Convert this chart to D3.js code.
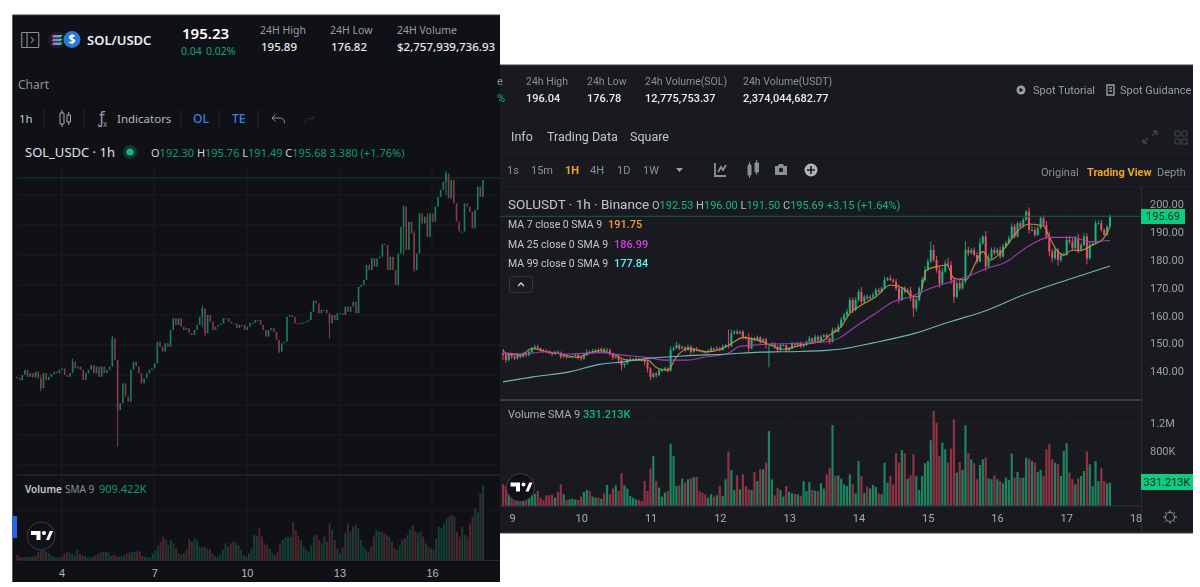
<!DOCTYPE html>
<html><head><meta charset="utf-8">
<style>html,body{margin:0;padding:0;background:#fff}svg{display:block;filter:blur(0.4px)}</style>
<script src="https://cdn.jsdelivr.net/npm/d3@7"></script>
</head><body><svg id="c" width="1200" height="587" font-family="'Noto Sans',Roboto,sans-serif"></svg>
<script>
// ---------- LEFT CHART: SOL/USDC ----------
const leftTicks=[4,7,10,13,16];
const leftGridPrices=[190,180,170,160,150,140,130,120,110,100];
const leftCloses=[128.9,128.3,130,131.7,129.4,130.6,129.2,131.1,128.9,125.6,130.6,128.3,129.4,130.3,131.1,130.6,131.7,132.2,130,129.4,130.6,134.4,132.2,132.8,131.7,128.3,130.6,131.7,133.3,130.6,132.8,129.4,132.8,130.6,131.7,132.8,142.2,135,118.3,120.6,127.2,122.8,121.1,131.7,134.4,132.8,130.6,127.2,128.9,130.6,131.7,132.2,133.9,141.1,139.4,137.8,140.6,139.4,145,148.9,146.7,148.9,146.1,145,145.6,143.9,143.3,145,146.7,149.4,152.2,143.9,150,147.8,145,146.1,146.7,147.2,148.9,148.9,147.8,147.2,147.2,145.6,146.7,146.7,145,146.1,
147.4,147.4,148.3,148.3,146.7,145,142.8,145,145.6,144.4,141.7,137.8,140.6,141.1,149.4,150,149.4,147.2,147,147.4,147.4,147.8,148.3,151.1,154.8,153.9,150.6,151.7,151.7,150.6,147.2,150,148.3,150.6,150.6,150,152.8,151.1,152.8,154.4,150.6,159.4,160,161.7,166.7,165,168.9,166.1,168.9,169.4,173.7,173.3,165,169.4,165,160,170.5,179.4,186.1,171.7,181.1,177.2,165,170.5,183.9,180.5,182.8,176.1,183.9,181.1,186.1,189.4,191.7,194.4,197.2,188.9,195,187.2,181.1,177.8,177.8,187.2,186.1,184.4,178.9,185,192.8,189.4,195];
const leftWickRows=[[9,130,124.6],[21,135.5,131],[36,143,134],[38,135,106.1],[70,153.2,146],[71,152,142.8],[99,141,137.2],[118,150,142.2],[146,186.5,170],[150,178,164.4],[155,184,176],[162,198,190]];
const leftVolumesK=[200,120,107,107,120,133,133,160,333,360,400,333,267,187,133,93,93,133,267,320,293,240,187,427,240,187,160,107,107,133,187,240,293,320,333,293,160,213,160,133,160,187,267,293,320,333,347,333,160,133,107,107,267,373,560,733,933,800,600,800,667,467,267,200,267,400,827,733,867,800,533,507,533,453,427,267,160,133,240,400,667,533,667,733,693,600,400,200,133,267,467,1000,960,1267,933,667,600,467,267,200,333,667,800,907,933,933,1533,1200,960,800,533,400,333,600,933,1000,800,667,933,733,1467,1200,800,467,267,533,1067,1467,1133,1333,1400,1267,800,533,400,333,533,933,1200,1133,1133,1067,1000,933,733,467,400,600,800,867,1000,1200,1400,1133,1067,1133,933,667,533,467,400,867,1333,1267,1467,1667,1733,1800,1733,1133,933,1333,1000,933,1467,1733,2067,1933,2667,3000];

// ---------- RIGHT CHART: SOLUSDT ----------
const rightTicks=[9,10,11,12,13,14,15,16,17,18];
const rightPriceTicks=[200,190,180,170,160,150,140];
const rightVolumeTicks=[[1200,"1.2M"],[800,"800K"],[400,"400K"]];
const rightCloses=[145.8,144,145.8,145.2,144.6,145.8,145.2,146.4,145.8,147,148.2,148.8,148.2,147.6,147.4,147,146.7,146.2,147,146.7,145.2,145.8,145,145.2,145.5,145.9,145,144.5,145.8,147,146.7,147.4,147.6,147.4,148,147.3,147.6,146.2,145,145.2,144,142.2,142.8,144,144.3,144.3,144.5,144.3,144,143.4,141,138,139.2,138.6,140.4,140.4,141,140.2,147.6,148.2,149.4,148.2,148.6,147.6,148.8,147,148.2,147.6,147.4,147,146.7,147.4,148.2,147.9,148.2,147.6,148.8,149.4,149,153.6,154.2,153.6,154.2,152.4,151.8,148.2,151.8,151.2,152.2,150.6,151.5,149.4,149.8,150,148.8,147.6,149.4,149.4,147.6,148.2,150,149.4,150,149,149.4,150.6,151.8,150.6,152.4,151.2,152.4,153,151.8,150.6,154.8,154.2,156,158.6,
160.2,161.4,165.6,162,165.6,168.6,165,166.8,166.2,166.8,167.4,169.2,168.6,169.8,172.8,173.4,172.8,172.2,169.8,165.6,169.8,168.6,169.2,166.2,162.6,165.6,169.8,172.8,176.4,179.4,183.6,180,176.4,171.6,175.8,178.8,178.2,172.8,166.8,171.6,169.8,172.2,183.6,182.4,183.6,181.8,179.4,186,188.4,177.6,180.6,183.6,182.4,183.6,181.2,184.8,186,187.8,192,188.4,193.2,192,194.4,197.4,190.8,190.8,189,191.4,195,192.6,188.4,183,180.6,183.6,180,181.8,181.8,187.2,186.6,184.2,187.8,183.6,185.4,188.4,180.6,185.4,186,193.2,193.2,190.8,189,192,195.7];
const rightWickUp=[1,.5,.3,.6,.4,.8,.4,.6,.5,.7,.6,.8,.7,.3,.4,.5,.6,.3,.4,.5,.4,.6,.3,.4,.3,.5,.4,.6,.5,.9,.4,.6,.5,.7,.6,.4,.8,.5,.3,.4,.6,.4,.3,.5,.7,.4,.6,.4,.3,.5,.4,.5,.3,.6,.4,.5,.6,.4,1.4,.8,1.2,.5,.7,.4,.8,.6,.4,.5,.4,.3,.4,.5,.8,.4,.9,.6,.8,.4,5.6,1.4,.6,.8,.5,.6,.4,1.8,.6,.5,.7,.4,.4,.6,.2,.5,.4,.6,.7,.4,.3,.5,.8,.4,.6,.7,.3,.5,.9,.4,.8,.6,.7,.5,.6,.4,.9,.8,1,.9,
.8,1.2,1,.9,1,.9,1.6,.7,.8,.6,1,.7,.8,.6,1.2,.5,1,.6,1,1.4,.6,.8,.7,1.2,1,.9,.7,1,1.4,1,3,1.8,1.5,1.2,1.4,1,2,1.4,1,.8,1.2,.7,3.2,1.2,.7,.9,1.1,1.8,.6,2,1.4,.9,1,.8,1.2,1,.8,.9,1.2,1,.7,.6,.8,.6,1.5,1.6,1.2,1,.8,1,1.4,1.8,1,.9,.8,.7,.8,1.2,1.5,1.2,.8,1.6,.9,1.2,1.1,1.4,.8,1,.9,1.2,.5,.4,.6];
const rightWickDown=[1.8,1,.4,.7,.5,.4,.6,.3,.6,.4,.3,.4,.3,.5,.7,.4,.6,.8,.3,.4,.8,.4,.6,.3,.5,.3,.8,.7,.3,.3,.5,.3,.4,.5,.3,.8,.3,.7,.9,.4,.7,1.8,.9,.4,.5,.3,.4,.5,.4,1.2,1.4,1.2,.5,.9,.4,.6,.3,.7,.3,.4,.2,.6,.3,.7,.3,.9,.3,.5,.4,.5,.4,.3,.2,.4,.2,.5,.2,.4,.8,.3,.4,.4,.3,1,.4,1.2,.3,.5,.3,.7,.3,1.2,8,.3,.8,.7,.3,.4,.7,.3,.4,.5,.3,.6,.4,.3,.3,.4,.3,.5,.3,.3,.5,.9,.3,.4,.3,.4,
.4,.6,.5,1.2,.4,.6,.7,.5,.6,.4,.6,.4,.5,.4,.3,.4,.4,.5,.8,1.2,.4,.6,.5,1,3,1.2,.5,.4,.6,.4,.5,.7,1,1.6,.6,.4,.6,1.4,2.2,.6,.9,.4,.6,.9,.4,.6,.8,.3,.5,1.6,.4,.4,.5,.3,.8,.3,.3,.3,.3,.7,.3,.4,.3,.3,1.2,.6,.8,.3,.3,.5,.9,1.6,1.5,.6,2,.8,.4,.3,1,.8,.3,1.2,.5,.4,2.2,.4,.3,.3,.4,.6,.5,.3,.4];
const rightVolumesK=[313,289,217,145,87,72,82,96,135,145,154,174,217,120,87,154,154,164,120,202,313,169,87,96,106,96,87,135,202,231,217,135,120,120,106,183,304,169,251,299,217,472,299,251,145,120,96,87,72,361,217,540,723,361,265,135,193,217,901,723,289,299,395,337,386,395,415,424,217,193,169,120,169,135,154,289,145,386,786,521,231,443,241,458,289,241,231,492,361,530,530,627,1085,386,154,265,231,135,289,202,183,174,169,145,361,217,347,231,222,217,328,251,458,554,1171,434,443,395,313,289,458,313,183,651,434,193,280,251,304,275,183,169,627,337,434,313,762,627,810,762,395,443,747,434,231,434,617,651,950,1374,1205,723,916,819,627,829,1253,482,636,521,1166,762,675,617,386,593,675,699,395,386,443,386,361,328,410,376,757,410,492,410,410,699,684,651,627,492,521,434,819,892,675,627,603,434,795,906,482,386,313,395,434,506,786,603,289,651,361,545,361,328,337];
const ma7Rows=[[0,147.9],[1,146.2],[6,145.8],[10,148.2],[15,147],[20,146.2],[25.5,145],[29,146.2],[33.5,147.4],[38,146.2],[43,144],[50,144],[53,141.4],[57,140.4],[60,145.2],[64,148.2],[70.5,147],[76,148.2],[80,150.6],[83,152.2],[88,151.2],[92.5,149.4],[97,147.9],[103,149.4],[111,151.2],[113,153],[117,156],[120,160.8],[124,163.8],[129,166.8],[134,171],[138.5,169.8],[142,166.8],[144,166.8],[146.5,176.4],[150,177.6],[153.5,178.2],[156,173.4],[160,172.8],[164,180],[166,183],[168.5,180],[173,183.6],[179,191.4],[182,192.9],[187,192.2],[189,188.4],[191.5,183.6],[194,181.8],[197,183.6],[199.5,183.3],[204,185.4],[207.5,187.4],[210,191.75]];
const ma25Rows=[[0,146.7],[6,146.2],[15,147],[22,146.2],[33.5,146.7],[41.5,145.8],[49.7,145],[56.6,144],[63.5,144],[70.5,145.2],[77.4,146.2],[82,149],[86.6,149.4],[93.5,149.8],[100.5,150],[112,150.6],[116.6,152.1],[121,155.4],[128,160.2],[135,165],[141,166.8],[148,169.8],[155,172.2],[162,174.6],[167.5,177],[174.3,179.4],[179,183],[183.5,186],[189,188.1],[197,188.1],[203,186.6],[210,186.99]];
const ma99Rows=[[0,136.2],[10.5,138],[23,139.8],[33.5,142.5],[41.5,143.4],[49.7,144.6],[62.4,145.5],[77.4,146.2],[89,146.9],[102.8,147.1],[113,147.6],[117,148],[128,150.2],[143,153.8],[154.7,157.8],[166,161.4],[180,167.4],[188,170.4],[197,173.4],[210,177.84]];

const svg=d3.select("#c");
const T=(s,x,y,o={})=>svg.append("text").attr("x",x).attr("y",y).attr("dy","0.35em")
  .attr("fill",o.c||"#fff").attr("font-size",o.s||11).attr("font-weight",o.w||400)
  .attr("text-anchor",o.a||"start").attr("font-family",o.f||null).text(s);
const L=(x1,y1,x2,y2,c,w=1)=>svg.append("line").attr("x1",x1).attr("y1",y1).attr("x2",x2).attr("y2",y2).attr("stroke",c).attr("stroke-width",w);
const R=(x,y,w,h,c)=>svg.append("rect").attr("x",x).attr("y",y).attr("width",w).attr("height",h).attr("fill",c);
const P=(d,o={})=>svg.append("path").attr("d",d).attr("fill",o.f||"none").attr("stroke",o.s||"none").attr("stroke-width",o.w||1);
const tvLogo=(cx,cy)=>{
  svg.append("circle").attr("cx",cx).attr("cy",cy).attr("r",14).attr("fill","#0f1116").attr("stroke","#3a3e48");
  P(`M${cx-10} ${cy-5}h9.5v9h-4v-5h-5.5z`,{f:"#fff"});
  svg.append("circle").attr("cx",cx+3).attr("cy",cy-3).attr("r",2).attr("fill","#fff");
  P(`M${cx+5} ${cy+4}l3.8-9h3.2l-3.8 9z`,{f:"#fff"});
};

// ================ LEFT PANEL ================
const lbg="#0f1116";
R(12.5,15,487.5,567,lbg);
L(12.5,15,500,15,"#3c3f46");L(12.5,15,12.5,582,"#5a5d63");
const gridL="#1a1d23";
L(12.5,64,500,64,"#181b20");
// header
P("M22.5 32.5h15.5a.8.8 0 0 1 .8.8v13.4a.8.8 0 0 1-.8.8h-15.5a.8.8 0 0 1-.8-.8v-13.4a.8.8 0 0 1 .8-.8zM27 32.5v15M31 37l2.5 3-2.5 3",{s:"#8b8e95",w:1.1});
const grad=svg.append("defs").append("linearGradient").attr("id","sol").attr("x1",0).attr("x2",1);
grad.append("stop").attr("offset",0).attr("stop-color","#cf4fe0");grad.append("stop").attr("offset",1).attr("stop-color","#27e3b0");
svg.append("circle").attr("cx",57).attr("cy",40).attr("r",9).attr("fill","#1c1e25");
P("M53 35h9.5l-2 2.5H52zM53 38.8h9.5l-2 2.5H52zM53 42.6h9.5l-2 2.5H52z",{f:"url(#sol)"});
svg.append("circle").attr("cx",72).attr("cy",39.5).attr("r",8.5).attr("fill","#2a78d0");
T("$",72,39.5,{s:12,w:700,a:"middle"});
T("SOL/USDC",87,40,{s:13,w:600,c:"#eceef0"});
T("195.23",182,34,{s:15,w:600});
T("0.04",181,51,{s:10.5,c:"#19a26e"});T("0.02%",206,51,{s:10.5,c:"#19a26e"});
T("24H High",260,30,{s:10.5,c:"#9a9da3"});T("195.89",261,47,{s:11.5,w:500,c:"#e8e9eb"});
T("24H Low",330,30,{s:10.5,c:"#9a9da3"});T("176.82",331,47,{s:11.5,w:500,c:"#e8e9eb"});
T("24H Volume",397,30,{s:10.5,c:"#9a9da3"});T("$2,757,939,736.93",397,47,{s:11.5,w:500,c:"#e8e9eb"});
T("Chart",18,85,{s:12,c:"#8d9096"});
T("1h",19,119,{s:11.5,c:"#c5c7ca"});
[44,84,181,219,258].forEach(x=>L(x,110,x,128,"#26292f"));
P("M60 113h4v11h-4zM62 110v3M62 124v3M67 115h3.5v7H67zM68.7 112v3M68.7 122v3",{s:"#a9abaf"});
T("ƒ",98,117,{s:16,c:"#9a9da3"});T("x",103,124,{s:8,c:"#9a9da3"});
T("Indicators",117,119,{s:11.5,c:"#b5b7bb"});
T("OL",193,119,{s:12,w:500,c:"#3f7fe0"});T("TE",232,119,{s:12,w:500,c:"#3f7fe0"});
P("M272 118h8a4.5 4.5 0 0 1 4.5 4.5v1M272 118l3.5-3.5M272 118l3.5 3.5",{s:"#8d9096"});
P("M305 124v-1a4.5 4.5 0 0 1 4.5-4.5h5M314.5 118.5l-3-3",{s:"#2b2e34"});
T("SOL_USDC · 1h",25,152,{s:13,c:"#e0e2e4"});
svg.append("circle").attr("cx",130).attr("cy",152).attr("r",7).attr("fill","#0f3a33");
svg.append("circle").attr("cx",130).attr("cy",152).attr("r",3.6).attr("fill","#1ab58a");
const ohlcL=T("",151,153,{s:11,c:"#139a6e"});
[["O",1],["192.30",0],[" H",1],["195.76",0],[" L",1],["191.49",0],[" C",1],["195.68",0],[" 3.380 (+1.76%)",0]].forEach(([s,k])=>ohlcL.append("tspan").attr("fill",k?"#d0d2d4":"#139a6e").attr("xml:space","preserve").text(s));

const dayL=d3.scaleLinear().domain([4,16]).range([61.6,432]);
const xL=d3.scaleLinear().domain([0,leftCloses.length-1]).range([17,483]);
const yL=d3.scaleLinear().domain([190,100]).range([195,465]);
const yLV=d3.scaleLinear().domain([0,3000]).range([560,485]);
const xLV=d3.scaleLinear().domain([0,leftVolumesK.length-1]).range([17.5,483]);
leftGridPrices.forEach(p=>L(17,yL(p),500,yL(p),gridL));
leftTicks.forEach(t=>L(dayL(t),165,dayL(t),560,gridL));
L(17,510,500,510,gridL);
L(17,yL(195.68),500,yL(195.68),"#123a30");
const leftUp="#17805c",leftDown="#8a3a49";
const leftOpen=i=>i?leftCloses[i-1]:leftCloses[0]+.5;
svg.append("g").selectAll("rect").data(leftCloses).join("rect")
  .attr("x",(d,i)=>xL(i)-.8).attr("width",1.6)
  .attr("y",(d,i)=>yL(Math.max(d,leftOpen(i))))
  .attr("height",(d,i)=>Math.max(1,Math.abs(yL(d)-yL(leftOpen(i)))))
  .attr("fill",(d,i)=>d>=leftOpen(i)?leftUp:leftDown);
svg.append("g").selectAll("line").data(leftWickRows).join("line")
  .attr("x1",d=>xL(d[0])).attr("x2",d=>xL(d[0])).attr("y1",d=>yL(d[1])).attr("y2",d=>yL(d[2])).attr("stroke-width",1)
  .attr("stroke",d=>leftCloses[d[0]]>=leftOpen(d[0])?leftUp:leftDown);
L(17,475,500,475,"#2c2f35",1.2);
T("Volume",25,489,{s:10,w:600,c:"#c8cacc"});T("SMA 9",65,489,{s:10,c:"#8d9096"});T("909.422K",99,489,{s:11,c:"#139a6e"});
svg.append("g").selectAll("rect").data(leftVolumesK).join("rect")
  .attr("x",(d,i)=>xLV(i)-1).attr("width",2)
  .attr("y",d=>yLV(d)).attr("height",d=>yLV(0)-yLV(d))
  .attr("fill",(d,i)=>{const k=Math.round(xL.invert(xLV(i)));return leftCloses[k]>=leftOpen(k)?"#143f35":"#4b262c";});
L(17,560.5,500,560.5,"#24272c");
const axL=svg.append("g").attr("transform","translate(0,573)").call(d3.axisBottom(dayL).tickValues(leftTicks).tickFormat(d3.format("d")).tickSize(0).tickPadding(0));
axL.select(".domain").remove();axL.selectAll("text").attr("y",0).attr("dy","0.35em").attr("fill","#b5b7bb").attr("font-size",11);
R(12,516,5,22,"#2a62e0");
tvLogo(41,536);

// ================ RIGHT PANEL ================
R(500,65,693,468,"#181a20");
L(500,65,1193,65,"#3a3c42");L(500,533,1193,533,"#3a3c42");
[120,153,187].forEach(y=>L(500,y,1193,y,"#20232a"));
const gray="#8a8f98",lt="#c3c7cd";
T("e",497,81,{s:11,c:gray,f:"Roboto"});T("%",497,98,{s:11,c:"#16b97f",f:"Roboto"});
[["24h High",526,"196.04"],["24h Low",587,"176.78"],["24h Volume(SOL)",645,"12,775,753.37"],["24h Volume(USDT)",743,"2,374,044,682.77"]].forEach(([a,x,b])=>{T(a,x,81,{s:10.5,c:gray,f:"Roboto"});T(b,x,98,{s:11,w:500,c:"#eaecef",f:"Roboto"});});
svg.append("circle").attr("cx",1021).attr("cy",90).attr("r",4.5).attr("fill","#9a9ea6");
P("M1019.5 87.5l4 2.5-4 2.5z",{f:"#181a20"});
T("Spot Tutorial",1033,90,{s:11,c:"#9a9ea6",f:"Roboto"});
P("M1107 85h7v10h-7zM1109 88h3M1109 91h3",{s:"#9a9ea6",w:1.4});
T("Spot Guidance",1120,90,{s:11,c:"#9a9ea6",f:"Roboto"});
T("Info",511,137,{s:12.5,c:lt,f:"Roboto"});T("Trading Data",547,137,{s:12.5,c:lt,f:"Roboto"});T("Square",630,137,{s:12.5,c:lt,f:"Roboto"});
P("M1143 143l5-5M1143 143v-4M1143 143h4M1157 131l-5 5M1157 131v4M1157 131h-4",{s:"#40444c",w:1.3});
P("M1175 131h5v5h-5zM1182 131h5v5h-5zM1175 139h5v5h-5zM1182 139h5v5h-5z",{s:"#40444c"});
[["1s",507],["15m",531],["4H",590],["1D",617],["1W",643]].forEach(([s,x])=>T(s,x,170,{s:11,c:gray,f:"Roboto"}));
T("1H",565,170,{s:11,w:700,c:"#f0a52a",f:"Roboto"});
P("M676 168h7l-3.5 4z",{f:"#9a9ea6"});
P("M715 163v13h11M718 172l3-5 2 3 3-5",{s:"#8a8f98",w:1.8});
P("M748 165h3v10h-3zM749.5 162v16M755 163h3.5v9H755zM756.7 160v15",{f:"#8a8f98",s:"#8a8f98"});
P("M775 166h3l1-2h4l1 2h3v9h-12z",{f:"#8a8f98"});svg.append("circle").attr("cx",781).attr("cy",170).attr("r",2.2).attr("fill","#181a20");
svg.append("circle").attr("cx",811).attr("cy",170).attr("r",6.5).attr("fill","#b0b4ba");
P("M811 166v8M807 170h8",{s:"#181a20",w:1.6});
T("Original",1041,172,{s:11,c:gray,f:"Roboto"});T("Trading View",1087,172,{s:11,w:700,c:"#f0a52a",f:"Roboto"});T("Depth",1157,172,{s:11,c:gray,f:"Roboto"});

const dayR=d3.scaleLinear().domain([9,18]).range([512,1135.6]);
const xR=d3.scaleLinear().domain([0,rightCloses.length-1]).range([503,1110]);
const yR=d3.scaleLinear().domain([200,140]).range([204.3,371.3]);
const yRV=d3.scaleLinear().domain([0,1200]).range([506,423]);
const gridR="#1e2026";
rightPriceTicks.forEach(p=>L(500,yR(p),1141,yR(p),gridR));
rightVolumeTicks.forEach(t=>L(500,yRV(t[0]),1141,yRV(t[0]),gridR));
rightTicks.slice(0,-1).forEach(t=>L(dayR(t),190,dayR(t),506,gridR));
const up="#14b57f",down="#ee4f68";
const rightOpen=i=>i?rightCloses[i-1]:rightCloses[0]+.5;
const isUp=i=>rightCloses[i]>=rightOpen(i);
const gc=svg.append("g");
gc.selectAll("line").data(rightCloses).join("line")
  .attr("x1",(d,i)=>xR(i)).attr("x2",(d,i)=>xR(i))
  .attr("y1",(d,i)=>yR(Math.max(d,rightOpen(i))+(rightWickUp[i]||0)))
  .attr("y2",(d,i)=>yR(Math.min(d,rightOpen(i))-(rightWickDown[i]||0)))
  .attr("stroke",(d,i)=>isUp(i)?up:down).attr("stroke-width",.9);
gc.selectAll("rect").data(rightCloses).join("rect")
  .attr("x",(d,i)=>xR(i)-1).attr("width",2)
  .attr("y",(d,i)=>yR(Math.max(d,rightOpen(i))))
  .attr("height",(d,i)=>Math.max(1,Math.abs(yR(d)-yR(rightOpen(i)))))
  .attr("fill",(d,i)=>isUp(i)?up:down);
const ln=d3.line().x(d=>xR(d[0])).y(d=>yR(d[1])).curve(d3.curveMonotoneX);
[[ma7Rows,"#c58a3c"],[ma25Rows,"#a13fb3"],[ma99Rows,"#6fb7b5"]].forEach(([r,c])=>svg.append("path").attr("d",ln(r)).attr("fill","none").attr("stroke",c).attr("stroke-width",1.1));
L(500,yR(195.69),1141,yR(195.69),"#1d5a44");
T("SOLUSDT · 1h · Binance",508,204,{s:13.5,c:lt,f:"Roboto"});
const ohlcR=T("",652,205,{s:11,c:"#12b87f",f:"Roboto"});
[["O",1],["192.53",0],[" H",1],["196.00",0],[" L",1],["191.50",0],[" C",1],["195.69",0],[" +3.15 (+1.64%)",0]].forEach(([s,k])=>ohlcR.append("tspan").attr("fill",k?"#b7bdc6":"#12b87f").attr("xml:space","preserve").text(s));
T("MA 7 close 0 SMA 9",508,224,{s:10.5,c:lt,f:"Roboto"});T("191.75",608,224,{s:11,w:500,c:"#f0a030",f:"Roboto"});
T("MA 25 close 0 SMA 9",508,244,{s:10.5,c:lt,f:"Roboto"});T("186.99",614,244,{s:11,w:500,c:"#d43fe0",f:"Roboto"});
T("MA 99 close 0 SMA 9",508,263,{s:10.5,c:lt,f:"Roboto"});T("177.84",614,263,{s:11,w:500,c:"#5ff0f0",f:"Roboto"});
svg.append("rect").attr("x",509.5).attr("y",276.5).attr("width",23).attr("height",16).attr("rx",2).attr("fill","none").attr("stroke","#33363d");
P("M518 286l3-3 3 3",{s:"#d0d3d8",w:1.4});
L(500,400,1141,400,"#3a3d44",2);
L(1141.5,187,1141.5,533,"#2b2e35");
const axP=svg.append("g").attr("transform","translate(1150,0)").call(d3.axisRight(yR).tickValues(rightPriceTicks).tickFormat(d3.format(".2f")).tickSize(0).tickPadding(0));
axP.select(".domain").remove();axP.selectAll("text").attr("fill","#9ba0a8").attr("font-size",11).attr("font-family","Roboto");
R(1141,209,44,15,"#0ecb81");
T("195.69",1163,216.5,{s:11,c:"#103026",a:"middle",f:"Roboto"});
// volume
T("Volume SMA 9",508,414,{s:11,c:"#a7acb4",f:"Roboto"});T("331.213K",583,414,{s:11,w:500,c:"#12b87f",f:"Roboto"});
svg.append("g").selectAll("rect").data(rightVolumesK).join("rect")
  .attr("x",(d,i)=>xR(i)-1.1).attr("width",2.2)
  .attr("y",d=>yRV(d)).attr("height",d=>yRV(0)-yRV(d))
  .attr("fill",(d,i)=>isUp(i)?"#1f8260":"#8f3344");
L(500,506,1141,506,"#33363d");
const axV=svg.append("g").attr("transform","translate(1150,0)").call(d3.axisRight(yRV).tickValues(rightVolumeTicks.map(d=>d[0])).tickFormat(d=>rightVolumeTicks.find(t=>t[0]===d)[1]).tickSize(0).tickPadding(0));
axV.select(".domain").remove();axV.selectAll("text").attr("fill","#9ba0a8").attr("font-size",11).attr("font-family","Roboto");
R(1141,474,52,16,"#0ecb81");
T("331.213K",1167,482,{s:11,c:"#103026",a:"middle",f:"Roboto"});
const axR=svg.append("g").attr("transform","translate(0,518)").call(d3.axisBottom(dayR).tickValues(rightTicks).tickFormat(d3.format("d")).tickSize(0).tickPadding(0));
axR.select(".domain").remove();axR.selectAll("text").attr("y",0).attr("dy","0.35em").attr("fill","#a7acb4").attr("font-size",11).attr("font-family","Roboto");
svg.append("circle").attr("cx",1170).attr("cy",517).attr("r",4.5).attr("fill","none").attr("stroke","#8a8f98").attr("stroke-width",1.1);
P("M1170 510v2M1170 522v2M1163 517h2M1175 517h2M1165 512l1.5 1.5M1173.5 520.5l1.5 1.5M1165 522l1.5-1.5M1173.5 513.5l1.5-1.5",{s:"#8a8f98"});
tvLogo(520.5,487.5);
</script></body></html>
